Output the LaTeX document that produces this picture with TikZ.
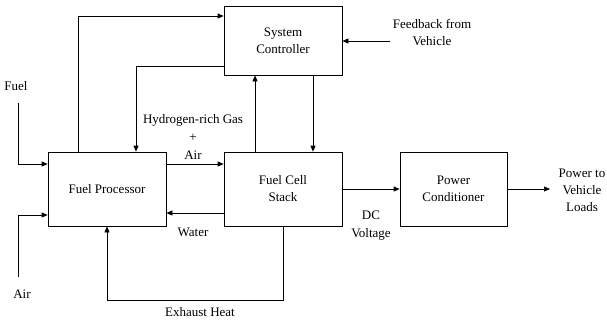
\documentclass[tikz,border=0pt]{standalone}
\usepackage{fontspec}
\setmainfont{Liberation Serif}
\usetikzlibrary{arrows.meta}
\begin{document}
\begin{tikzpicture}[x=1pt,y=-1pt,
  every node/.style={font=\fontsize{13}{17}\selectfont, inner sep=0pt},
  blockbox/.style={draw, line width=0.7pt, minimum width=118pt, minimum height=74pt, align=center},
  lbl/.style={align=center},
  conn/.style={line width=0.7pt},
  arr/.style={conn, -{Triangle[length=6pt,width=5pt]}}]
\useasboundingbox (0,0) rectangle (607,322);
% blocks
\node[blockbox] (fp) at (107,189) {Fuel Processor};
\node[blockbox] (fc) at (283,189) {Fuel Cell\\Stack};
\node[blockbox, minimum height=69pt] (sc) at (283,40.5) {System\\Controller};
\node[blockbox, minimum width=107pt] (pc) at (453.5,189) {Power\\Conditioner};
% labels
\node[lbl] (fuel) at (16,86) {Fuel};
\node[lbl] (air) at (22,294) {Air};
\node[lbl, font=\fontsize{13}{18}\selectfont] (h2) at (193,137) {Hydrogen-rich Gas\\+\\Air};
\node[lbl] (water) at (193,232) {Water};
\node[lbl] (exh) at (200,312) {Exhaust Heat};
\node[lbl, font=\fontsize{13}{18}\selectfont] (dc) at (371,226) {DC\\Voltage};
\node[lbl] (fb) at (432,33) {Feedback from\\Vehicle};
\node[lbl] (loads) at (582,190) {Power to\\Vehicle\\Loads};
% free ends
\coordinate (fuelS) at (18,103);
\coordinate (airS) at (18,277);
\coordinate (fbS) at (390,41);
\coordinate (outE) at (550,189);
% connectors
\draw[arr] (fuelS) |- ([yshift=25pt]fp.west);
\draw[arr] (airS) |- ([yshift=-26pt]fp.west);
\draw[arr] ([xshift=-29pt]fp.north) |- ([yshift=24.5pt]sc.west);
\draw[arr] ([yshift=-25.5pt]sc.west) -| ([xshift=29pt]fp.north);
\draw[arr] ([yshift=25pt]fp.east) -- ([yshift=25pt]fc.west);
\draw[arr] ([yshift=-24pt]fc.west) -- ([yshift=-24pt]fp.east);
\draw[arr] ([xshift=-28pt]fc.north) -- ([xshift=-28pt]sc.south);
\draw[arr] ([xshift=30pt]sc.south) -- ([xshift=30pt]fc.north);
\draw[arr] (fbS) -- (sc.east |- fbS);
\draw[arr] (fc.east) -- (pc.west);
\draw[arr] (pc.east) -- (outE);
\draw[arr] (fc.south) -- ++(0,74) -| (fp.south);
\end{tikzpicture}
\end{document}
